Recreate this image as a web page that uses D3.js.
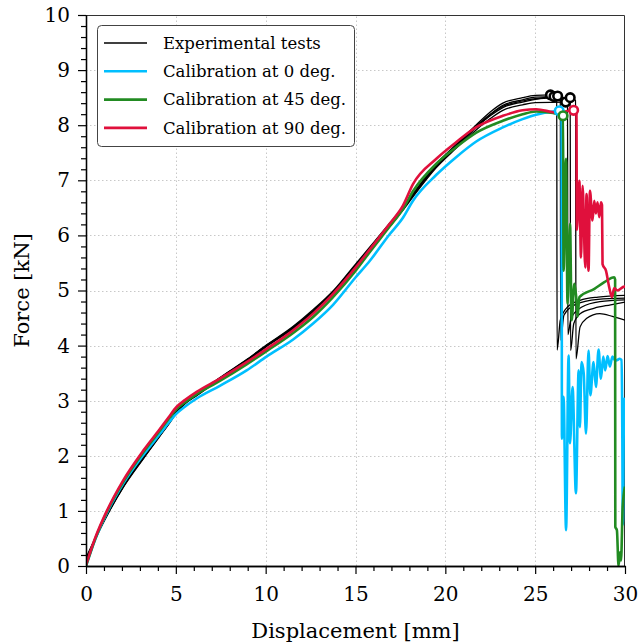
<!DOCTYPE html>
<html><head><meta charset="utf-8">
<script src="https://cdn.jsdelivr.net/npm/d3@7"></script>
<style>
html,body{margin:0;padding:0;background:#fff;}
svg{display:block;font-family:"DejaVu Serif",serif;}
</style></head>
<body>
<svg id="chart" width="639" height="644"></svg>
<script>
// ---------- DATA ----------
const xTicks = [0,5,10,15,20,25,30];
const yTicks = [0,1,2,3,4,5,6,7,8,9,10];
const legendLabels = ["Experimental tests","Calibration at 0 deg.","Calibration at 45 deg.","Calibration at 90 deg."];

// Experimental tests [displacement mm, force kN]
const test1 = [[0,0.15],[0.5,0.5],[1.2,0.96],[2.1,1.47],[3.2,1.98],[4.1,2.38],[4.6,2.6],[5.0,2.79],[5.5,2.97],[6.2,3.13],[7.5,3.43],[9.0,3.76],[10.0,4.0],[11.5,4.34],[12.6,4.64],[13.8,5.01],[15.0,5.48],[15.8,5.79],[16.9,6.22],[17.6,6.5],[18.2,6.76],[19.5,7.3],[20.6,7.65],[21.7,8.0],[22.5,8.24],[23.2,8.4],[24.3,8.5],[25.0,8.54],[25.85,8.55],[26.2,8.5],[26.22,3.92],[26.4,4.46],[26.8,4.7],[27.5,4.82],[28.5,4.88],[30,4.91]];
const test2 = [[0,0.12],[0.5,0.49],[1.2,0.95],[2.1,1.46],[3.2,1.97],[4.1,2.37],[4.6,2.59],[5.0,2.78],[5.5,2.96],[6.2,3.12],[7.5,3.42],[9.0,3.75],[10.0,3.99],[11.5,4.33],[12.6,4.62],[13.8,4.99],[15.0,5.46],[15.8,5.77],[16.9,6.2],[17.6,6.48],[18.2,6.74],[19.5,7.28],[20.6,7.63],[21.7,7.98],[22.5,8.2],[23.2,8.36],[24.3,8.46],[25.0,8.51],[26.05,8.52],[26.4,8.47],[26.42,4.1],[26.6,4.55],[27.2,4.74],[28.5,4.84],[30,4.86]];
const test3 = [[0,0.1],[0.5,0.48],[1.2,0.94],[2.1,1.45],[3.2,1.96],[4.1,2.36],[4.6,2.58],[5.0,2.77],[5.5,2.95],[6.2,3.11],[7.5,3.41],[9.0,3.74],[10.0,3.98],[11.5,4.31],[12.6,4.6],[13.8,4.97],[15.0,5.44],[15.8,5.75],[16.9,6.18],[17.6,6.46],[18.2,6.72],[19.5,7.25],[20.6,7.6],[21.7,7.95],[22.5,8.17],[23.2,8.32],[24.3,8.42],[25.0,8.47],[26.25,8.53],[26.8,8.45],[26.82,4.2],[27.0,4.5],[27.6,4.7],[28.6,4.8],[30,4.83]];
const test4 = [[0,0.08],[0.5,0.47],[1.2,0.93],[2.1,1.44],[3.2,1.95],[4.1,2.35],[4.6,2.57],[5.0,2.76],[5.5,2.94],[6.2,3.1],[7.5,3.4],[9.0,3.73],[10.0,3.97],[11.5,4.3],[12.6,4.59],[13.8,4.95],[15.0,5.42],[15.8,5.73],[16.9,6.16],[17.6,6.44],[18.2,6.7],[19.5,7.23],[20.6,7.58],[21.7,7.91],[22.5,8.12],[23.2,8.27],[24.3,8.37],[25.0,8.41],[26.7,8.42],[26.95,8.38],[26.97,3.91],[27.15,4.4],[27.5,4.58],[28.3,4.68],[29.2,4.74],[30,4.79]];
const test5 = [[0,0.1],[0.5,0.48],[1.2,0.95],[2.1,1.46],[3.2,1.97],[4.1,2.37],[4.6,2.59],[5.0,2.78],[5.5,2.96],[6.2,3.12],[7.5,3.42],[9.0,3.75],[10.0,3.99],[11.5,4.32],[12.6,4.61],[13.8,4.98],[15.0,5.45],[15.8,5.76],[16.9,6.19],[17.6,6.47],[18.2,6.73],[19.5,7.27],[20.6,7.62],[21.7,7.96],[22.5,8.19],[23.2,8.34],[24.3,8.44],[25.0,8.48],[26.95,8.5],[27.25,8.45],[27.27,3.76],[27.5,4.34],[27.85,4.49],[28.6,4.58],[29.3,4.53],[30,4.46]];
const tests = [test1,test2,test3,test4,test5];
const testPeaks = [[25.85,8.55],[26.05,8.52],[26.25,8.53],[26.7,8.42],[26.95,8.5]];

// Calibration at 0 deg.
const cal0 = [[0,0],[0.5,0.47],[1.16,0.96],[2.08,1.5],[3.2,2.02],[4.12,2.4],[4.6,2.6],[5.05,2.77],[5.5,2.89],[6.16,3.04],[7.45,3.27],[8.94,3.55],[10.05,3.8],[11.53,4.11],[12.64,4.4],[13.75,4.74],[15.01,5.24],[15.8,5.54],[16.9,6.02],[17.64,6.32],[18.2,6.63],[19.5,7.1],[20.6,7.42],[21.7,7.7],[23.2,7.96],[24.3,8.11],[25.05,8.19],[26.0,8.25],[26.34,8.26],[26.47,8.2],[26.49,2.31],[26.58,3.07],[26.72,0.65],[26.86,3.82],[26.94,2.23],[27.08,3.25],[27.27,1.32],[27.42,3.55],[27.49,2.52],[27.58,3.7],[27.7,3.5],[27.83,2.4],[27.97,3.91],[28.07,3.1],[28.25,3.7],[28.38,3.25],[28.53,3.93],[28.66,3.4],[28.79,3.8],[28.9,3.55],[29.03,3.81],[29.16,3.62],[29.3,3.8],[29.45,3.73],[29.58,3.74],[29.7,3.76],[29.8,3.74],[29.84,3.0],[29.88,0.75],[29.95,3.0],[30,3.05]];
const peak0 = [26.34,8.26];

// Calibration at 45 deg.
const cal45 = [[0,0],[0.5,0.48],[1.16,0.98],[2.08,1.53],[3.2,2.07],[4.12,2.46],[4.6,2.67],[5.05,2.85],[5.5,2.97],[6.16,3.12],[7.45,3.36],[8.94,3.66],[10.05,3.9],[11.53,4.23],[12.64,4.52],[13.75,4.88],[15.01,5.36],[15.8,5.7],[16.9,6.16],[17.64,6.48],[18.2,6.8],[19.5,7.3],[20.6,7.6],[21.7,7.86],[23.2,8.08],[24.3,8.2],[25.05,8.25],[26.0,8.22],[26.55,8.17],[26.58,5.36],[26.72,7.39],[26.8,4.76],[26.94,6.21],[27.03,4.46],[27.18,5.12],[27.3,4.82],[27.36,4.52],[27.46,4.88],[28.3,5.03],[28.85,5.15],[29.4,5.24],[29.45,5.2],[29.46,0.71],[29.55,0.65],[29.64,0.0],[29.72,0.25],[29.78,0.1],[29.87,1.07],[30,1.44]];
const peak45 = [26.55,8.17];

// Calibration at 90 deg.
const cal90 = [[0,0.02],[0.5,0.5],[1.16,1.0],[2.08,1.56],[3.2,2.1],[4.12,2.49],[4.6,2.7],[5.05,2.89],[5.5,3.01],[6.16,3.16],[7.45,3.4],[8.94,3.7],[10.05,3.94],[11.53,4.28],[12.64,4.58],[13.75,4.94],[15.01,5.42],[15.8,5.75],[16.9,6.21],[17.64,6.54],[18.2,6.93],[19.5,7.39],[20.6,7.69],[21.7,7.96],[23.2,8.17],[24.3,8.27],[25.05,8.29],[26.2,8.23],[27.14,8.27],[27.3,8.2],[27.32,6.1],[27.46,6.99],[27.55,5.6],[27.64,6.9],[27.79,5.42],[27.86,6.75],[27.97,5.36],[28.05,6.81],[28.19,6.27],[28.29,6.63],[28.38,6.4],[28.47,6.6],[28.57,6.33],[28.66,6.6],[28.72,6.55],[28.75,5.48],[28.94,5.36],[29.12,5.06],[29.27,4.88],[29.4,5.04],[29.58,5.0],[29.96,5.07],[30,5.07]];
const peak90 = [27.14,8.27];

const colors = {test:"#000000", c0:"#00BFFF", c45:"#228B22", c90:"#E0103C"};

// ---------- LAYOUT ----------
const W = 639, H = 644;
const m = {left:86, right:14, top:15, bottom:78};
const svg = d3.select("#chart");
const x = d3.scaleLinear().domain([0,30]).range([m.left, W - m.right]);
const y = d3.scaleLinear().domain([0,10]).range([H - m.bottom, m.top]);

svg.append("defs").append("clipPath").attr("id","clip")
  .append("rect").attr("x", m.left).attr("y", m.top)
  .attr("width", W - m.left - m.right).attr("height", H - m.top - m.bottom);

// grid
const grid = svg.append("g").attr("stroke","#c8c8c8").attr("stroke-width",1).attr("stroke-dasharray","1.5,2.5");
grid.selectAll(".gx").data(xTicks.filter(d=>d>0 && d<30)).join("line")
  .attr("x1",d=>Math.round(x(d))+0.5).attr("x2",d=>Math.round(x(d))+0.5)
  .attr("y1",y(0)).attr("y2",y(10));
grid.selectAll(".gy").data(yTicks.filter(d=>d>0 && d<10)).join("line")
  .attr("y1",d=>Math.round(y(d))+0.5).attr("y2",d=>Math.round(y(d))+0.5)
  .attr("x1",x(0)).attr("x2",x(30));

// frame (top/right)
svg.append("path")
  .attr("d", `M${x(0)},${y(10)+0.5}H${x(30)-0.5}V${y(0)}`)
  .attr("fill","none").attr("stroke","#333").attr("stroke-width",1);

// curves
const line = d3.line().x(d=>x(d[0])).y(d=>y(d[1])).curve(d3.curveMonotoneX);
const plot = svg.append("g").attr("clip-path","url(#clip)");
plot.selectAll(".test").data(tests).join("path")
  .attr("d", line).attr("fill","none").attr("stroke",colors.test)
  .attr("stroke-width",1.3).attr("stroke-linejoin","round");
const calib = [[cal0,colors.c0],[cal45,colors.c45],[cal90,colors.c90]];
plot.selectAll(".cal").data(calib).join("path")
  .attr("d", d=>line(d[0])).attr("fill","none").attr("stroke",d=>d[1])
  .attr("stroke-width",2.6).attr("stroke-linejoin","round");

// peak markers
const marks = svg.append("g");
marks.selectAll(".tp").data(testPeaks).join("circle")
  .attr("cx",d=>x(d[0])).attr("cy",d=>y(d[1])).attr("r",4.3)
  .attr("fill","#fff").attr("stroke",colors.test).attr("stroke-width",2.6);
marks.selectAll(".cp").data([[peak0,colors.c0],[peak45,colors.c45],[peak90,colors.c90]]).join("circle")
  .attr("cx",d=>x(d[0][0])).attr("cy",d=>y(d[0][1])).attr("r",4.3)
  .attr("fill","#fff").attr("stroke",d=>d[1]).attr("stroke-width",2.6);

// axes
const xAxis = svg.append("g").attr("transform",`translate(0,${y(0)})`)
  .call(d3.axisBottom(x).tickValues(xTicks).tickFormat(d3.format("d")).tickSize(8).tickSizeOuter(0).tickPadding(13));
const xMinor = svg.append("g").attr("transform",`translate(0,${y(0)})`)
  .call(d3.axisBottom(x).tickValues(d3.range(0,31,1).filter(v=>v%5!==0)).tickFormat("").tickSize(5).tickSizeOuter(0));
const yAxis = svg.append("g").attr("transform",`translate(${x(0)},0)`)
  .call(d3.axisLeft(y).tickValues(yTicks).tickFormat(d3.format("d")).tickSize(8).tickSizeOuter(0).tickPadding(8));
const yMinor = svg.append("g").attr("transform",`translate(${x(0)},0)`)
  .call(d3.axisLeft(y).tickValues(d3.range(0,50).map(i=>i*0.2).filter(v=>Math.abs(v-Math.round(v))>1e-6)).tickFormat("").tickSize(5).tickSizeOuter(0));
[xAxis,xMinor,yAxis,yMinor].forEach(g=>{
  g.selectAll("path").attr("stroke","#000").attr("stroke-width",1.3);
  g.selectAll("line").attr("stroke","#000").attr("stroke-width",1.2);
  g.selectAll("text").attr("font-family","DejaVu Serif").attr("font-size",20).attr("fill","#000");
});

// axis titles
svg.append("text").attr("x",(x(0)+x(30))/2).attr("y",638)
  .attr("text-anchor","middle").attr("font-size",21).text("Displacement [mm]");
svg.append("text").attr("transform",`translate(29,${(y(0)+y(10))/2}) rotate(-90)`)
  .attr("text-anchor","middle").attr("font-size",21).text("Force [kN]");

// legend
const lg = svg.append("g");
lg.append("rect").attr("x",97.5).attr("y",25.5).attr("width",257).attr("height",121).attr("rx",4)
  .attr("fill","#fff").attr("stroke","#444").attr("stroke-width",1);
const legendColors = [colors.test, colors.c0, colors.c45, colors.c90];
const legendWidths = [1.5,2.6,2.6,2.6];
legendLabels.forEach((t,i)=>{
  const yy = 43 + i*28.3;
  lg.append("line").attr("x1",104).attr("x2",147).attr("y1",yy).attr("y2",yy)
    .attr("stroke",legendColors[i]).attr("stroke-width",legendWidths[i]);
  lg.append("text").attr("x",163).attr("y",yy).attr("dy","0.35em")
    .attr("font-size",16.5).attr("fill","#000").text(t);
});
</script>
</body></html>
